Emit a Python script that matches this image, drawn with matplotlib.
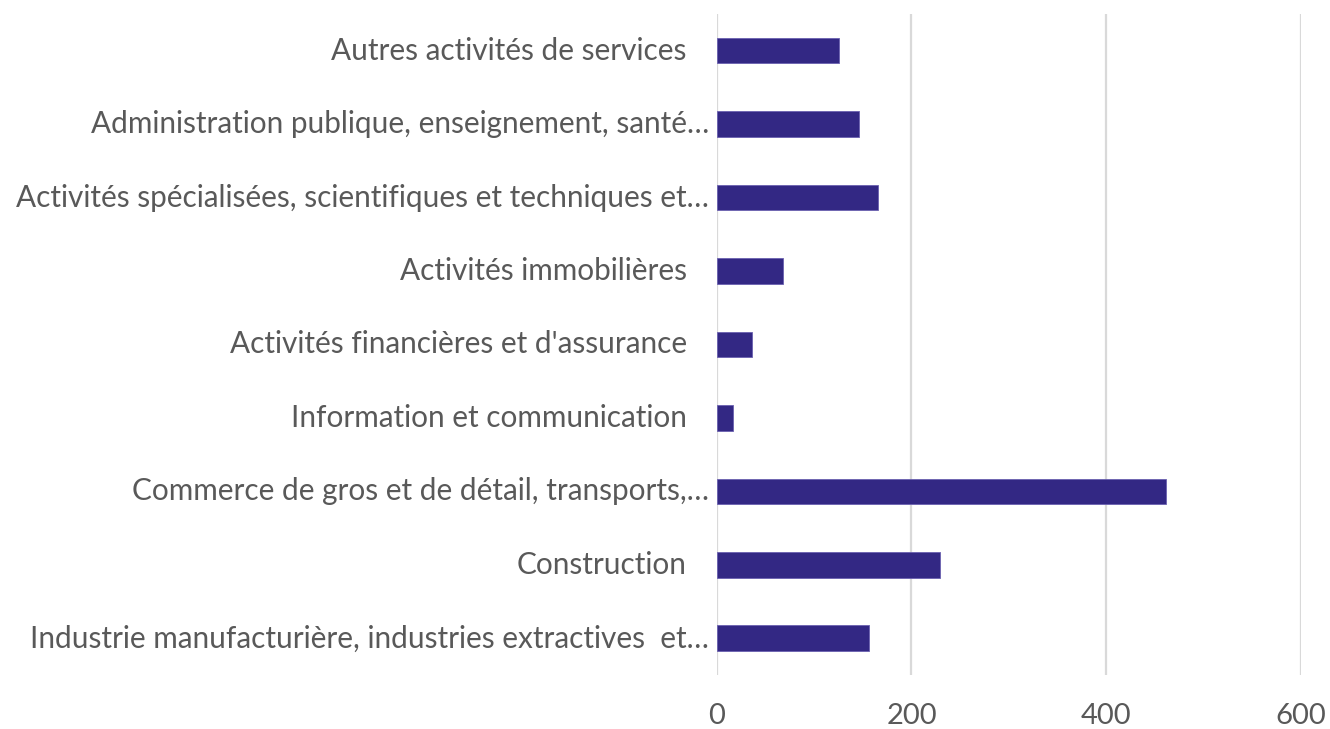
import matplotlib
matplotlib.use("Agg")
import matplotlib.pyplot as plt
import matplotlib.transforms as mtransforms

plt.rcParams["font.family"] = ["Lato", "DejaVu Sans"]

categories = [
    "Industrie manufacturière, industries extractives  et…",
    "Construction",
    "Commerce de gros et de détail, transports,…",
    "Information et communication",
    "Activités financières et d'assurance",
    "Activités immobilières",
    "Activités spécialisées, scientifiques et techniques et…",
    "Administration publique, enseignement, santé…",
    "Autres activités de services",
]
values = [156, 229, 462, 17, 36, 68, 166, 146, 126]
x_ticks = [0, 200, 400, 600]

TEXT = "#595959"
GRID = "#d9d9d9"
BAR = "#332884"

fig = plt.figure(figsize=(13.3, 7.29), dpi=100)
ax = fig.add_axes([0.539, 0.074, 0.439, 0.907])

y = range(len(categories))
ax.barh(y, values, height=0.35, color=BAR, edgecolor="#6a60b0", linewidth=0.6, zorder=2)

ax.set_xlim(0, 600)
ax.set_ylim(-0.5, len(categories) - 0.5)
ax.set_xticks(x_ticks)
ax.set_xticklabels([str(t) for t in x_ticks], fontsize=21, color=TEXT)
ax.tick_params(axis="x", length=0, pad=20)
ax.set_yticks([])
ax.grid(axis="x", color=GRID, linewidth=1.6, zorder=0)
for s in ax.spines.values():
    s.set_visible(False)

# category labels: truncated ones sit closer to the axis, like the original
base = mtransforms.blended_transform_factory(ax.transAxes, ax.transData)
for yi, label in zip(y, categories):
    dx = -8 if label.endswith("…") else -30
    tr = mtransforms.offset_copy(base, fig=fig, x=dx, y=0, units="dots")
    ax.text(0, yi, label, transform=tr, ha="right", va="center",
            fontsize=21.4, color=TEXT)

fig.savefig("out.png", dpi=100)
